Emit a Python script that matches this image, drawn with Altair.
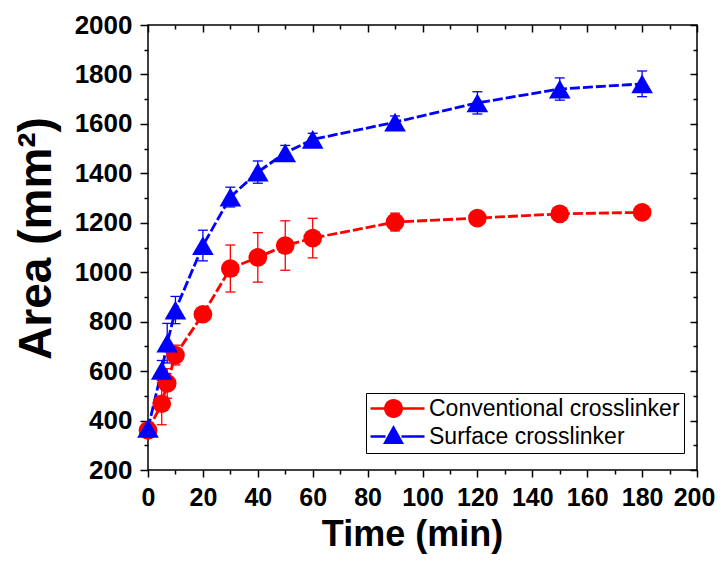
import math
import altair as alt
import pandas as pd

# ---- data ----
time_min = [0, 5, 7, 10, 20, 30, 40, 50, 60, 90, 120, 150, 180]
conv_area = [360, 468, 550, 665, 830, 1015, 1060, 1108, 1138, 1203, 1219, 1236, 1242]
conv_err = [25, 85, 60, 40, 25, 95, 100, 100, 80, 36, 20, 15, 12]
surf_area = [368, 603, 713, 847, 1108, 1304, 1405, 1483, 1537, 1607, 1685, 1741, 1762]
surf_err = [15, 40, 80, 55, 62, 40, 45, 30, 25, 25, 45, 45, 52]
series_names = ["Conventional crosslinker", "Surface crosslinker"]
series_colors = ["#FF0000", "#0000FF"]

x_major = list(range(0, 201, 20))
x_minor = list(range(10, 200, 20))
y_major = list(range(200, 2001, 200))
y_minor = list(range(300, 2000, 200))

rows = []
for name, vals, errs in [(series_names[0], conv_area, conv_err),
                         (series_names[1], surf_area, surf_err)]:
    for t, v, e in zip(time_min, vals, errs):
        rows.append(dict(series=name, legend_series=name, t=t, v=v, lo=v - e, hi=v + e))
df = pd.DataFrame(rows)

W, H = 549, 445
FONT = "Liberation Sans"

xs = alt.Scale(domain=[0, 200], nice=False, zero=False)
ys = alt.Scale(domain=[200, 2000], nice=False, zero=False)
cscale = alt.Scale(domain=series_names, range=series_colors)


def axis(orient, values, size, labels=False, offset=None, **kw):
    args = dict(orient=orient, values=values, tickSize=size, tickWidth=1.5,
                tickColor="black", labels=labels, domain=False, grid=False,
                title=None)
    if offset is not None:
        args["offset"] = offset
    if labels:
        args.update(labelFont=FONT, labelFontWeight="bold", labelFontSize=26,
                    labelColor="black", labelPadding=8, labelOverlap=False,
                    labelFlush=False, format="d")
    args.update(kw)
    return alt.Axis(**args)


base = alt.Chart(df)

x_bottom = axis("bottom", x_major, 7, labels=True, title="Time (min)",
                titleFont=FONT, titleFontWeight="bold", titleFontSize=36,
                titleColor="black", titleX=264, titleY=75,
                titleBaseline="alphabetic", titleAlign="center",
                labelFontSize=25,
                labelOffset={"condition": {"test": "datum.value == 200", "value": -3},
                             "value": 0})
y_left = axis("left", y_major, 8, labels=True, title="Area (mm²)",
              titleFont=FONT, titleFontWeight="bold", titleFontSize=46,
              titleColor="black", titleX=-98, titleY=213, titleAngle=270,
              titleBaseline="alphabetic", titleAlign="center")

lines = base.mark_line(strokeWidth=2.8, strokeDash=[10, 3]).encode(
    x=alt.X("t:Q", scale=xs, axis=x_bottom),
    y=alt.Y("v:Q", scale=ys, axis=y_left),
    color=alt.Color("series:N", scale=cscale, legend=None),
    detail="series:N",
)

err_rules = base.mark_rule(strokeWidth=1.3).encode(
    x=alt.X("t:Q", scale=xs, axis=axis("bottom", x_minor, 4)),
    y=alt.Y("lo:Q", scale=ys, axis=axis("left", y_minor, 4)),
    y2="hi:Q",
    color=alt.Color("series:N", scale=cscale, legend=None),
)

caps_hi = base.mark_tick(orient="horizontal", size=10, thickness=1.3, opacity=1).encode(
    x=alt.X("t:Q", scale=xs, axis=axis("bottom", x_major, 7, offset=-H)),
    y=alt.Y("hi:Q", scale=ys, axis=axis("left", y_major, 7, offset=-W)),
    color=alt.Color("series:N", scale=cscale, legend=None),
)

caps_lo = base.mark_tick(orient="horizontal", size=10, thickness=1.3, opacity=1).encode(
    x=alt.X("t:Q", scale=xs, axis=axis("bottom", x_minor, 4, offset=-H)),
    y=alt.Y("lo:Q", scale=ys, axis=axis("left", y_minor, 4, offset=-W)),
    color=alt.Color("series:N", scale=cscale, legend=None),
)

points = base.mark_point(filled=True, opacity=1).encode(
    x=alt.X("t:Q", scale=xs, axis=None),
    y=alt.Y("v:Q", scale=ys, axis=None),
    color=alt.Color("series:N", scale=cscale, legend=None),
    shape=alt.Shape("series:N", scale=alt.Scale(domain=series_names,
                                                range=["circle", "triangle-up"]),
                    legend=None),
    size=alt.Size("series:N", scale=alt.Scale(domain=series_names, range=[350, 470]),
                  legend=None),
)

# legend glyphs "-o-" and "-^-": unit = 10 px (symbolSize 400)
def poly(cx, cy, r, n=28):
    pts = [(cx + r * math.cos(2 * math.pi * k / n), cy + r * math.sin(2 * math.pi * k / n))
           for k in range(n)]
    return "M" + "L".join(f"{px:.3f},{py:.3f}" for px, py in pts) + "Z"

bars = "M-1.1,-0.13H0.4V0.13H-1.1Z M2.0,-0.13H4.3V0.13H2.0Z"
circle_path = bars + " " + poly(1.2, 0, 0.95)
tri_path = bars + " M1.2,-1.15L2.25,0.75H0.15Z"

leg = alt.Legend(orient="none", legendX=218, legendY=368, title=None,
                 labelFont=FONT, labelFontSize=23, labelColor="black",
                 labelOffset=36, labelLimit=500, symbolSize=400, symbolStrokeWidth=0,
                 strokeColor="black", fillColor="white", padding=4,
                 rowPadding=4, symbolOpacity=1)

legend_layer = base.transform_filter("false").mark_point(filled=True, opacity=1).encode(
    x=alt.X("t:Q", scale=xs, axis=None),
    y=alt.Y("v:Q", scale=ys, axis=None),
    color=alt.Color("legend_series:N", scale=cscale, legend=leg),
    shape=alt.Shape("legend_series:N", scale=alt.Scale(domain=series_names,
                                                       range=[circle_path, tri_path]),
                    legend=leg),
)

chart = alt.layer(lines, err_rules, caps_hi, caps_lo, points, legend_layer).resolve_axis(
    x="independent", y="independent"
).resolve_scale(
    color="independent", shape="independent", size="independent"
).properties(
    width=W, height=H,
    autosize=alt.AutoSizeParams(type="none"),
    padding={"left": 140, "top": 17, "right": 19, "bottom": 84},
    background="white",
).configure_view(stroke="black", strokeWidth=1.5)

chart.save("out.html", embed_options={"renderer": "svg", "actions": False})
